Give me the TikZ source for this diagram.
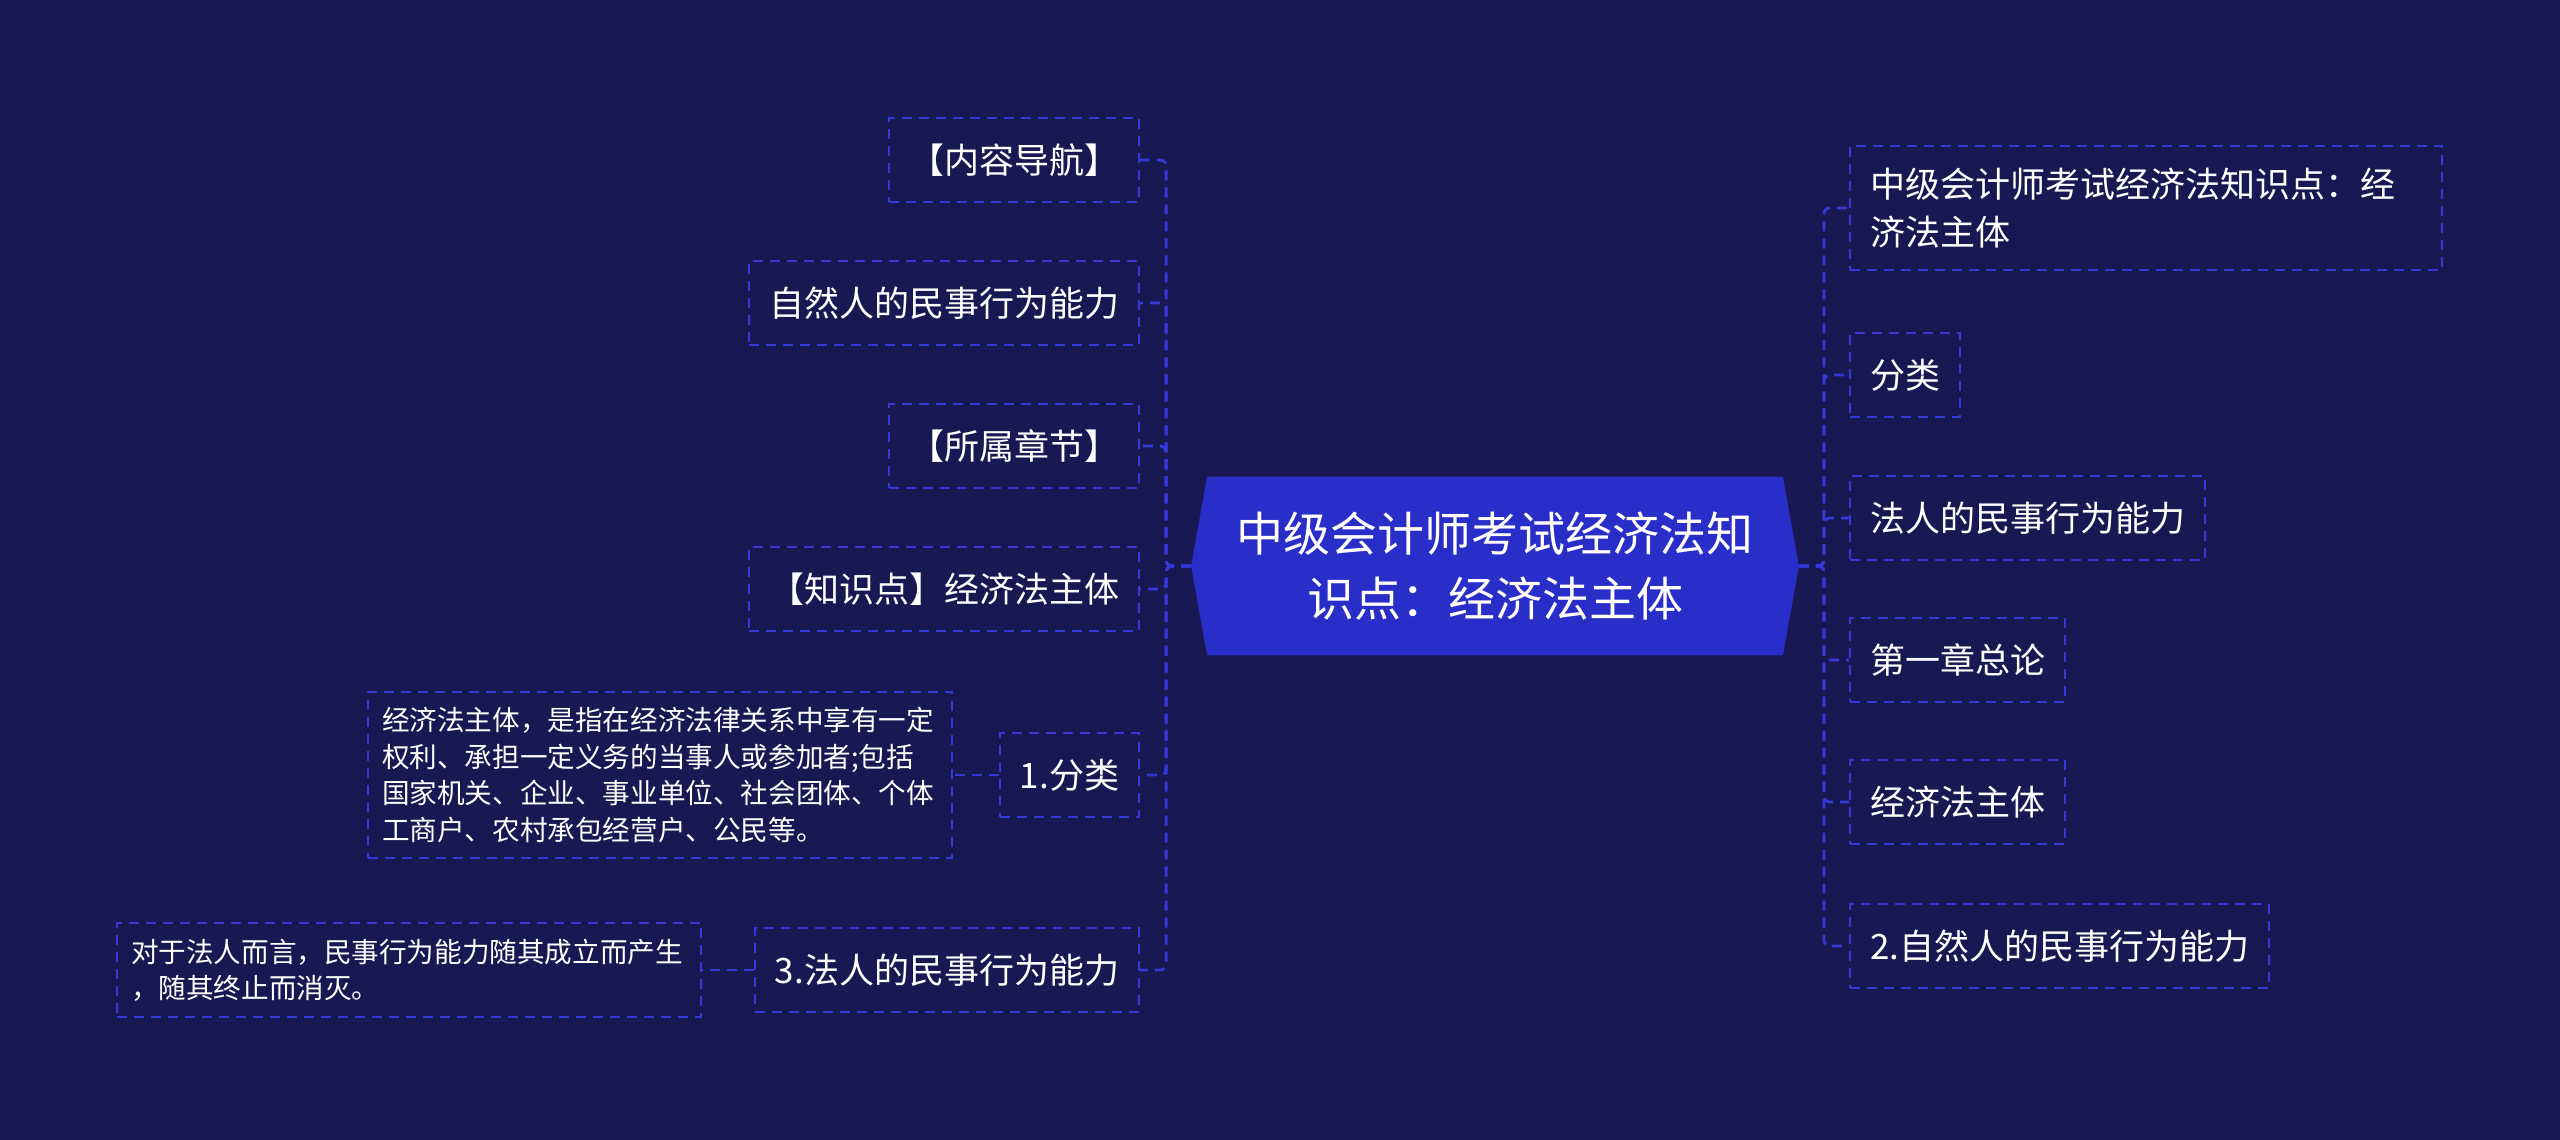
\documentclass[tikz,border=0pt]{standalone}
\usepackage{fontspec}
\setmainfont{Noto Sans CJK SC}
\usepackage{tikz}
\usetikzlibrary{positioning, calc, backgrounds}
\definecolor{pagebg}{RGB}{24,25,82}
\definecolor{hubfill}{RGB}{42,46,200}
\definecolor{linkblue}{RGB}{52,56,214}
\tikzset{
  topic/.style={
    draw=linkblue, dash pattern=on 5pt off 3.5pt, line width=1pt,
    minimum height=42pt, inner xsep=10pt, inner ysep=11pt,
    text=white, font=\fontsize{17.5pt}{23.7pt}\selectfont, align=left
  },
  note/.style={
    topic, text width=278pt, inner xsep=7pt, inner ysep=8pt,
    font=\fontsize{13.8pt}{18.2pt}\selectfont
  },
  hub/.style={
    minimum width=303.5pt, minimum height=89pt, inner sep=0pt,
    text=white, align=center, font=\fontsize{23.5pt}{32.5pt}\selectfont
  },
  link/.style={draw=linkblue, line width=1.4pt, dash pattern=on 5pt off 3.5pt,
    rounded corners=3pt},
}

\begin{document}
\begin{tikzpicture}[x=0.5pt, y=-0.5pt]
  \useasboundingbox (0,0) rectangle (2560,1140);

  % centre
  \node[hub] (root) at (1495,566) {中级会计师考试经济法知\\识点：经济法主体};

  % left branch
  \node[topic, anchor=east] (nav) at (1140,160) {【内容导航】};
  \node[topic, anchor=east] (natural) at (1140,303) {自然人的民事行为能力};
  \node[topic, anchor=east] (chapter) at (1140,446) {【所属章节】};
  \node[topic, anchor=east] (point) at (1140,589) {【知识点】经济法主体};
  \node[topic, anchor=east] (cls) at (1140,775) {1.分类};
  \node[topic, anchor=east] (legal) at (1140,970) {3.法人的民事行为能力};
  \node[note, anchor=east] (clsnote) at (953,775)
    {经济法主体，是指在经济法律关系中享有一定\\权利、承担一定义务的当事人或参加者;包括\\国家机关、企业、事业单位、社会团体、个体\\工商户、农村承包经营户、公民等。};
  \node[note, anchor=east] (legalnote) at (702,970)
    {对于法人而言，民事行为能力随其成立而产生\\，随其终止而消灭。};

  % right branch
  \node[topic, anchor=west, text width=276pt] (rtitle) at (1849,208) {中级会计师考试经济法知识点：经\\济法主体};
  \node[topic, anchor=west] (rcls) at (1849,375) {分类};
  \node[topic, anchor=west] (rlegal) at (1849,518) {法人的民事行为能力};
  \node[topic, anchor=west] (rchap) at (1849,660) {第一章总论};
  \node[topic, anchor=west] (rsubj) at (1849,802) {经济法主体};
  \node[topic, anchor=west] (rnatural) at (1849,946) {2.自然人的民事行为能力};

  \foreach \n in {nav, natural, chapter, point, cls, legal}
    \draw[link] (root.west) -- ++(-12.5pt,0) |- (\n.east);
  \foreach \n in {rtitle, rcls, rlegal, rchap, rsubj, rnatural}
    \draw[link] (root.east) -- ++(12.5pt,0) |- (\n.west);
  \draw[link] (cls.west) -- (clsnote.east);
  \draw[link] (legal.west) -- (legalnote.east);

  \begin{scope}[on background layer]
    \fill[pagebg] (0,0) rectangle (2560,1140);
    \fill[hubfill] (root.west) -- ([xshift=8pt]root.north west)
      -- ([xshift=-8pt]root.north east) -- (root.east)
      -- ([xshift=-8pt]root.south east) -- ([xshift=8pt]root.south west) -- cycle;
  \end{scope}
\end{tikzpicture}
\end{document}
